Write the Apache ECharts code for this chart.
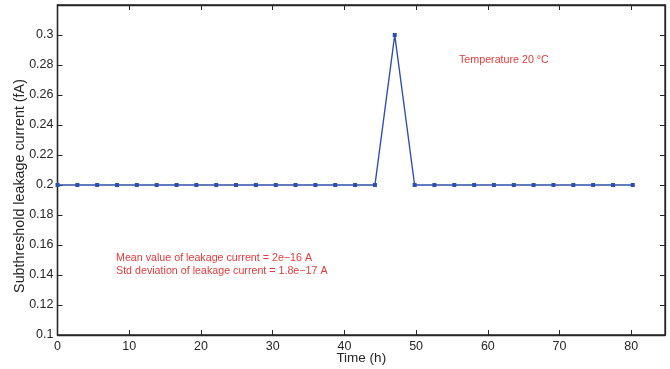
<!DOCTYPE html>
<html>
<head>
<meta charset="utf-8">
<script src="https://cdn.jsdelivr.net/npm/echarts@6/dist/echarts.min.js"></script>
<style>
html,body{margin:0;padding:0;background:#fff;}
#chart{width:670px;height:369px;}
</style>
</head>
<body>
<div id="chart"></div>
<script>
// Data
var timeHours = [0, 2.77, 5.53, 8.30, 11.06, 13.83, 16.60, 19.36, 22.13, 24.89,
  27.66, 30.43, 33.19, 35.96, 38.72, 41.49, 44.26, 47.02, 49.79, 52.55,
  55.32, 58.09, 60.85, 63.62, 66.38, 69.15, 71.92, 74.68, 77.45, 80.21];
var leakage = [0.2, 0.2, 0.2, 0.2, 0.2, 0.2, 0.2, 0.2, 0.2, 0.2,
  0.2, 0.2, 0.2, 0.2, 0.2, 0.2, 0.2, 0.3, 0.2, 0.2,
  0.2, 0.2, 0.2, 0.2, 0.2, 0.2, 0.2, 0.2, 0.2, 0.2];
var xTicks = [0, 10, 20, 30, 40, 50, 60, 70, 80];
var yTicks = [0.1, 0.12, 0.14, 0.16, 0.18, 0.2, 0.22, 0.24, 0.26, 0.28, 0.3];
var xRange = [0, 84.7];
var yRange = [0.1, 0.32];
var xTitle = 'Time (h)';
var yTitle = 'Subthreshold leakage current (fA)';
var noteTemp = 'Temperature 20 °C';
var noteMean = 'Mean value of leakage current = 2e\u221216 A';
var noteStd = 'Std deviation of leakage current = 1.8e\u221217 A';

var FONT = '"Liberation Sans", Arial, Helvetica, sans-serif';
var AX = '#262626';
var RED = '#e03c3c';
var BLUE = '#2f4fae';

var pts = timeHours.map(function (t, i) { return [t, leakage[i]]; });

function fmtY(v) { return String(parseFloat(v.toFixed(2))); }
function axisLine() { return {show: true, onZero: false, lineStyle: {color: AX, width: 1.3}}; }
function axisTick(inside, len) { return {show: true, inside: inside, length: len, lineStyle: {color: AX, width: 1}}; }

var chart = echarts.init(document.getElementById('chart'), null, {renderer: 'canvas'});
chart.setOption({
  animation: false,
  backgroundColor: '#fff',
  grid: {left: 57.5, right: 5, top: 5, bottom: 34, containLabel: false, outerBoundsMode: 'none',
    show: true, borderColor: AX, borderWidth: 1.3, backgroundColor: 'transparent'},
  xAxis: [
    {
      type: 'value', min: xRange[0], max: xRange[1], interval: xTicks[1] - xTicks[0], position: 'bottom',
      axisLine: axisLine(), axisTick: axisTick(true, 5), splitLine: {show: false},
      axisLabel: {color: AX, fontSize: 12.5, fontFamily: FONT, margin: 5, showMaxLabel: false,
        formatter: function (v) { return xTicks.indexOf(v) >= 0 ? String(v) : ''; }},
      name: xTitle, nameLocation: 'middle', nameGap: 16, nameMoveOverlap: false,
      nameTextStyle: {color: AX, fontSize: 13.5, fontFamily: FONT}
    },
    {
      type: 'value', min: xRange[0], max: xRange[1], interval: xTicks[1] - xTicks[0], position: 'top',
      axisLine: axisLine(), axisTick: axisTick(false, -5), splitLine: {show: false},
      axisLabel: {show: false}
    }
  ],
  yAxis: [
    {
      type: 'value', min: yRange[0], max: yRange[1], interval: 0.02, position: 'left',
      axisLine: axisLine(), axisTick: axisTick(true, 5), splitLine: {show: false},
      axisLabel: {color: AX, fontSize: 12.5, fontFamily: FONT, margin: 4, showMaxLabel: false,
        formatter: function (v) { var s = fmtY(v); return yTicks.map(String).indexOf(s) >= 0 ? s : ''; }}
    },
    {
      type: 'value', min: yRange[0], max: yRange[1], interval: 0.02, position: 'right',
      axisLine: axisLine(), axisTick: axisTick(false, -5), splitLine: {show: false},
      axisLabel: {show: false}
    }
  ],
  series: [{
    type: 'line',
    data: pts,
    xAxisIndex: 0, yAxisIndex: 0,
    symbol: 'rect', symbolSize: 4, showSymbol: true,
    lineStyle: {color: BLUE, width: 1.4},
    itemStyle: {color: BLUE},
    z: 3
  }],
  graphic: [
    {type: 'text', x: 20, y: 186, rotation: Math.PI / 2, style: {text: yTitle, fill: AX, font: '14.3px ' + FONT, textAlign: 'center', textVerticalAlign: 'middle'}},
    {type: 'text', x: 459, y: 60.5, style: {text: noteTemp, fill: RED, font: '10.7px ' + FONT, textAlign: 'left', textVerticalAlign: 'middle'}},
    {type: 'text', x: 116, y: 258.5, style: {text: noteMean, fill: RED, font: '10.7px ' + FONT, textAlign: 'left', textVerticalAlign: 'middle'}},
    {type: 'text', x: 116, y: 271, style: {text: noteStd, fill: RED, font: '10.7px ' + FONT, textAlign: 'left', textVerticalAlign: 'middle'}}
  ]
});
</script>
</body>
</html>
